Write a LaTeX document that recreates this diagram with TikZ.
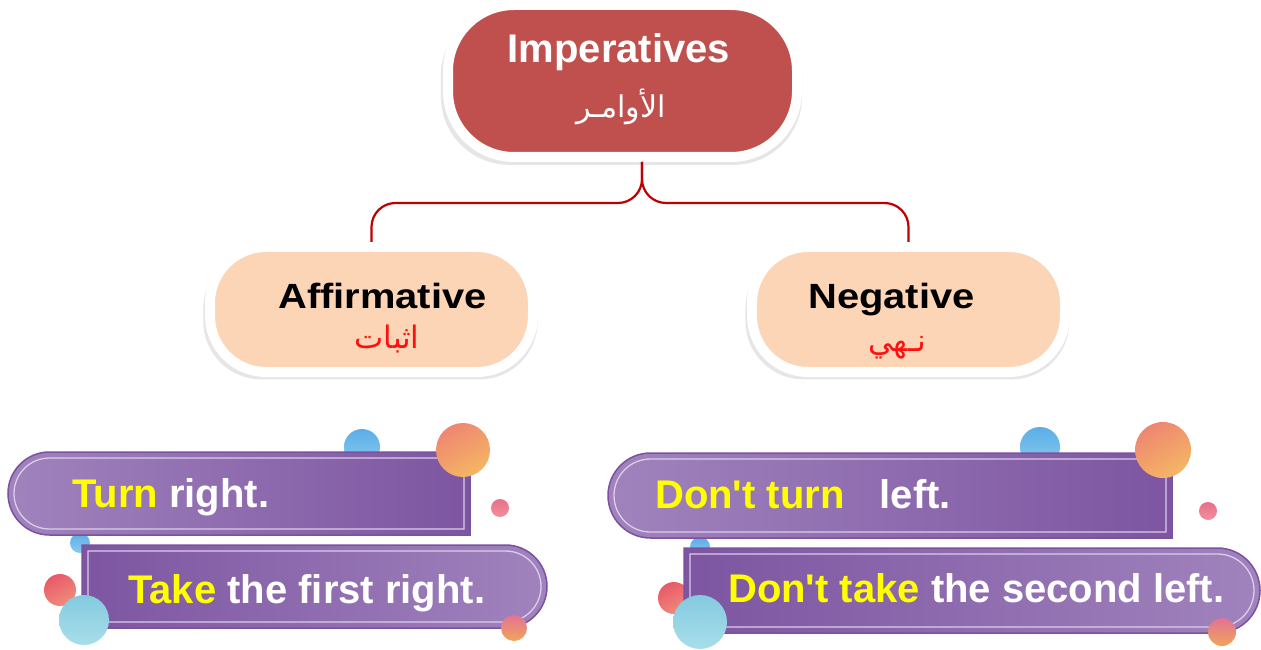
\documentclass[tikz,border=0pt]{standalone}
\usepackage{fontspec}
\setmainfont{Liberation Sans}
\newfontfamily\headfont[FakeStretch=1.14]{Liberation Sans}
\newfontfamily\bannerfont{Liberation Sans}
\newfontfamily\arabicfont[Script=Arabic]{DejaVu Sans}
\TeXXeTstate=1
\usetikzlibrary{shadows}

\definecolor{impred}{HTML}{C0504D}
\definecolor{peach}{HTML}{FBD5B5}
\definecolor{linkred}{HTML}{C00000}
\definecolor{arred}{HTML}{FF1010}
\definecolor{hilite}{HTML}{FFFF00}
\definecolor{purplelight}{HTML}{A083BD}
\definecolor{purpledark}{HTML}{7D55A1}
\definecolor{purpleedge}{HTML}{7A52A0}
\definecolor{lavender}{HTML}{DCCDEA}
\definecolor{blueA}{HTML}{5AAEE6}
\definecolor{blueB}{HTML}{8ACBEF}
\definecolor{orangeA}{HTML}{EE8672}
\definecolor{orangeB}{HTML}{F5B663}
\definecolor{skyA}{HTML}{84CADF}
\definecolor{skyB}{HTML}{A8DEEA}
\definecolor{redA}{HTML}{E85A68}
\definecolor{redB}{HTML}{F08C7C}
\definecolor{pinkA}{HTML}{E8708A}
\definecolor{pinkB}{HTML}{F0909A}
\definecolor{smallA}{HTML}{E27294}
\definecolor{smallB}{HTML}{F1A55A}

\begin{document}
\begin{tikzpicture}[x=1pt,y=1pt,
  box/.style={draw=white, line width=10pt,
    drop shadow={opacity=0.2, shadow xshift=-1pt, shadow yshift=-5pt, shadow scale=1.035}},
  link/.style={draw=linkred, line width=2.2pt, rounded corners=24pt},
  title/.style={anchor=base, inner sep=0pt, font=\bfseries\fontsize{40}{48}\selectfont},
  subtitle/.style={anchor=base, inner sep=0pt, font=\headfont\bfseries\fontsize{35}{42}\selectfont},
  artext/.style={anchor=base, inner sep=0pt, font=\arabicfont\fontsize{31}{36}\selectfont},
  bannertext/.style={anchor=base west, inner sep=0pt, text=white,
    font=\bannerfont\bfseries\fontsize{40}{48}\selectfont},
  banneredge/.style={draw=purpleedge, line width=1.5pt},
  bannerline/.style={draw=lavender, line width=1.3pt}]
\useasboundingbox (0,0) rectangle (1261,649);

% heading boxes
\node[box, fill=impred, rounded corners=66pt, minimum width=349pt, minimum height=152pt] (imp) at (622.5,568) {};
\node[box, fill=peach, rounded corners=56pt, minimum width=323pt, minimum height=125pt] (aff) at (371.5,339.5) {};
\node[box, fill=peach, rounded corners=56pt, minimum width=313pt, minimum height=125pt] (neg) at (908.5,339.5) {};

\node[title, text=white] (impen) at (619,586) {Imperatives};
\node[artext, text=white, font=\arabicfont\fontsize{30}{34}\selectfont] (impar) at (621,531) {\beginR الأوامـر\endR};
\node[subtitle] (affen) at (382.5,341) {Affirmative};
\node[artext, text=arred] (affar) at (387,301) {\beginR اثبات\endR};
\node[subtitle] (negen) at (891.5,341) {Negative};
\node[artext, text=arred] (negar) at (897,298) {\beginR نـهي\endR};

% fork
\coordinate (fork) at (642,446);
\draw[link] (imp.south -| fork) |- (aff.north |- fork) -- (aff.north);
\draw[link] (imp.south -| fork) |- (neg.north |- fork) -- (neg.north);

% bubbles behind the banners
\shade[top color=blueA, bottom color=blueB] (362,202) circle[radius=18];
\shade[top color=blueA, bottom color=blueB] (1040,202) circle[radius=20];
\shade[top color=blueA, bottom color=blueB] (80,106) circle[radius=10];
\shade[top color=blueA, bottom color=blueB] (700,102) circle[radius=10];
\shade[top color=redA, bottom color=redB, shading angle=30] (60,59) circle[radius=16];
\shade[top color=redA, bottom color=redB, shading angle=30] (674,51) circle[radius=16];

% banners
\shade[banneredge, left color=purplelight, right color=purpledark]
  (470,197) -- (49.5,197) arc[start angle=90, end angle=270, radius=41.5] -- (470,114) -- cycle;
\draw[bannerline] (464,191) -- (49.5,191) arc[start angle=90, end angle=270, radius=35.5] -- (464,120) -- cycle;
\shade[banneredge, left color=purpledark, right color=purplelight]
  (82,104) -- (505.5,104) arc[start angle=90, end angle=-90, radius=41.5] -- (82,21) -- cycle;
\draw[bannerline] (88,98) -- (505.5,98) arc[start angle=90, end angle=-90, radius=35.5] -- (88,27) -- cycle;
\shade[banneredge, left color=purplelight, right color=purpledark]
  (1172,196) -- (650.5,196) arc[start angle=90, end angle=270, radius=42.5] -- (1172,111) -- cycle;
\draw[bannerline] (1166,190) -- (650.5,190) arc[start angle=90, end angle=270, radius=36.5] -- (1166,117) -- cycle;
\shade[banneredge, left color=purpledark, right color=purplelight]
  (684,101) -- (1217.5,101) arc[start angle=90, end angle=-90, radius=42.5] -- (684,16) -- cycle;
\draw[bannerline] (690,95) -- (1217.5,95) arc[start angle=90, end angle=-90, radius=36.5] -- (690,22) -- cycle;

\node[bannertext] (turn) at (72,142) {{\color{hilite}Turn} right.};
\node[bannertext] (take) at (128,46) {{\color{hilite}Take} the first right.};
\node[bannertext] (dontturn) at (655,141) {{\color{hilite}Don't turn}\hspace{24pt} left.};
\node[bannertext] (donttake) at (728,47) {{\color{hilite}Don't take} the second left.};

% bubbles in front
\shade[top color=orangeA, bottom color=orangeB, shading angle=30] (463,199) circle[radius=27];
\shade[top color=orangeA, bottom color=orangeB, shading angle=30] (1163,199) circle[radius=28];
\shade[top color=pinkA, bottom color=pinkB] (500,141) circle[radius=9];
\shade[top color=pinkA, bottom color=pinkB] (1208,138) circle[radius=9];
\shade[top color=skyA, bottom color=skyB] (84,29) circle[radius=25];
\shade[top color=skyA, bottom color=skyB] (700,27) circle[radius=27];
\shade[top color=smallA, bottom color=smallB] (514,21) circle[radius=13];
\shade[top color=smallA, bottom color=smallB] (1222,17) circle[radius=14];
\end{tikzpicture}
\end{document}
